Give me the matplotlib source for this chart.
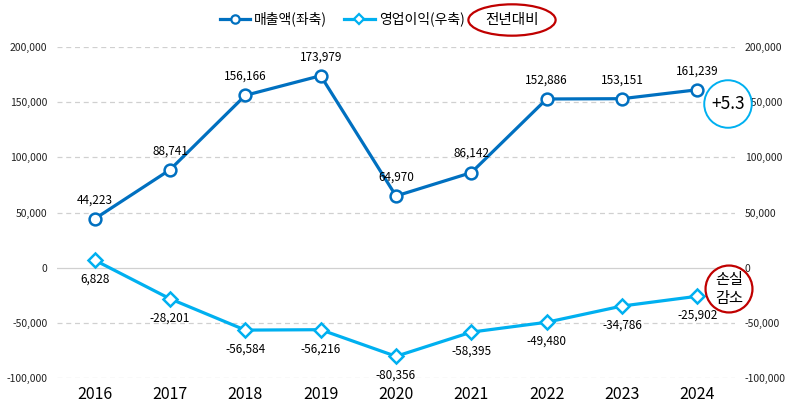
import matplotlib
matplotlib.use('Agg')
import matplotlib.pyplot as plt
from matplotlib.lines import Line2D

plt.rcParams['font.family'] = ['Noto Sans CJK KR', 'DejaVu Sans']

# data
years = ['2016', '2017', '2018', '2019', '2020', '2021', '2022', '2023', '2024']
sales = [44223, 88741, 156166, 173979, 64970, 86142, 152886, 153151, 161239]
op_profit = [6828, -28201, -56584, -56216, -80356, -58395, -49480, -34786, -25902]
y_ticks = [-100000, -50000, 0, 50000, 100000, 150000, 200000]

dark_blue = '#0070C0'
light_blue = '#00B0F0'
red = '#C00000'

fig = plt.figure(figsize=(7.87, 4.08), dpi=100)
ax = fig.add_axes([57 / 787, 30 / 408, (735 - 57) / 787, (378 - 47) / 408])
ax2 = ax.twinx()

x = list(range(len(years)))

ax.plot(x, sales, color=dark_blue, lw=2.3, marker='o', ms=8.5,
        mfc='white', mec=dark_blue, mew=1.8, zorder=3)
ax2.plot(x, op_profit, color=light_blue, lw=2.3, marker='D', ms=7.5,
         mfc='white', mec=light_blue, mew=1.8, zorder=3)

for xi, v in zip(x, sales):
    ax.annotate(f'{v:,}', (xi, v), xytext=(0, 9), textcoords='offset points',
                ha='center', va='bottom', fontsize=8.5, color='black')
for xi, v in zip(x, op_profit):
    ax2.annotate(f'{v:,}', (xi, v), xytext=(0, -9), textcoords='offset points',
                 ha='center', va='top', fontsize=8.5, color='black')

for a in (ax, ax2):
    a.set_ylim(-100000, 200000)
    a.set_yticks(y_ticks)
    a.set_yticklabels([f'{t:,}' for t in y_ticks])
    a.tick_params(axis='y', length=0, labelsize=7.5, pad=7, colors='#222222')
    for s in a.spines.values():
        s.set_visible(False)

ax.set_xlim(-0.5, len(years) - 0.5)
ax.set_xticks(x)
ax.set_xticklabels(years)
ax.tick_params(axis='x', length=0, labelsize=11.5, pad=6)

for t in y_ticks:
    if t == 0:
        ax.axhline(t, color='#d0d0d0', lw=0.9, zorder=1)
    else:
        ax.axhline(t, color='#d0d0d0', lw=0.9, ls=(0, (4, 3)), zorder=1)

# legend
handles = [
    Line2D([], [], color=dark_blue, lw=2.3, marker='o', ms=6, mfc='white', mec=dark_blue, mew=1.6),
    Line2D([], [], color=light_blue, lw=2.3, marker='D', ms=5, mfc='white', mec=light_blue, mew=1.6),
]
fig.legend(handles, ['매출액(좌축)', '영업이익(우축)'], loc='center', ncol=2,
           bbox_to_anchor=(342 / 787, 1 - 19 / 408), frameon=False, fontsize=10,
           handlelength=2.2, handletextpad=0.3, columnspacing=1.2)

fig.text(512 / 787, 1 - 20 / 408, '전년대비', ha='center', va='center', fontsize=10.5,
         bbox=dict(boxstyle='ellipse,pad=0.28', fc='white', ec=red, lw=1.6))

# callouts
fig.text(728 / 787, 1 - 104 / 408, '+5.3', ha='center', va='center', fontsize=12.5,
         bbox=dict(boxstyle='circle,pad=0.4', fc='white', ec=light_blue, lw=1.4))
fig.text(729 / 787, 1 - 289 / 408, '손실\n감소', ha='center', va='center', fontsize=11,
         linespacing=1.1,
         bbox=dict(boxstyle='circle,pad=0.38', fc='white', ec=red, lw=1.6))

plt.savefig('out.png', dpi=100)
